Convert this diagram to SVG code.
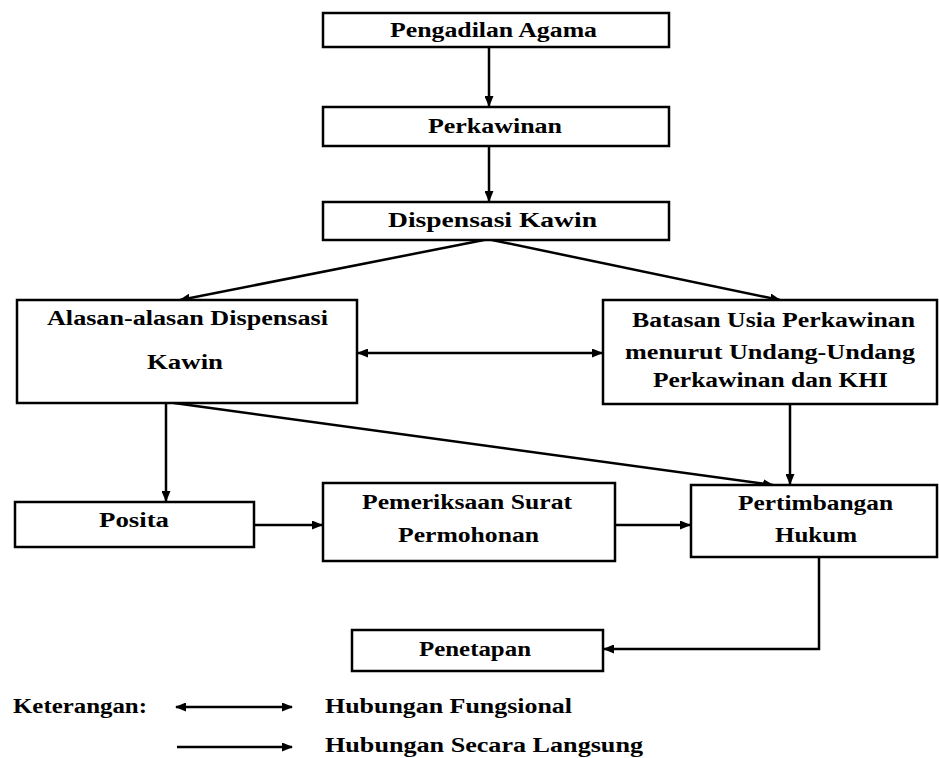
<svg xmlns="http://www.w3.org/2000/svg" width="939" height="758" viewBox="0 0 939 758">
<style>
.box{fill:#fff;stroke:#000;stroke-width:2.5}
.t{font-family:"Liberation Serif","Times New Roman",serif;font-weight:bold;font-size:20px;fill:#000;text-anchor:middle}
.tl{font-family:"Liberation Serif","Times New Roman",serif;font-weight:bold;font-size:20px;fill:#000}
.c{fill:none;stroke:#000;stroke-width:2.5}
</style>
<defs>
<marker id="ah" markerUnits="userSpaceOnUse" markerWidth="11" markerHeight="9" refX="10" refY="4.5" orient="auto">
<path d="M0,0 L11,4.5 L0,9 z" fill="#000"/>
</marker>
<marker id="as" markerUnits="userSpaceOnUse" markerWidth="11" markerHeight="9" refX="1" refY="4.5" orient="auto">
<path d="M11,0 L0,4.5 L11,9 z" fill="#000"/>
</marker>
</defs>
<rect width="939" height="758" fill="#fff"/>
<g id="connectors">
<line class="c" x1="489" y1="47" x2="489" y2="106" marker-end="url(#ah)"/>
<line class="c" x1="489" y1="146" x2="489" y2="201" marker-end="url(#ah)"/>
<line class="c" x1="484" y1="240" x2="180" y2="300" marker-end="url(#ah)"/>
<line class="c" x1="492" y1="240" x2="780" y2="300" marker-end="url(#ah)"/>
<line class="c" x1="358" y1="353" x2="602" y2="353" marker-start="url(#as)" marker-end="url(#ah)"/>
<line class="c" x1="166" y1="403" x2="166" y2="501" marker-end="url(#ah)"/>
<line class="c" x1="174" y1="403" x2="773" y2="485" marker-end="url(#ah)"/>
<line class="c" x1="790" y1="404" x2="790" y2="484" marker-end="url(#ah)"/>
<line class="c" x1="254" y1="525" x2="322" y2="525" marker-end="url(#ah)"/>
<line class="c" x1="615" y1="525" x2="690" y2="525" marker-end="url(#ah)"/>
<polyline class="c" points="819,557 819,649 604,649" marker-end="url(#ah)"/>
</g>
<g id="n-pengadilan">
<rect class="box" x="323" y="13" width="346" height="34"/>
<text class="t" x="493.5" y="37" textLength="207" lengthAdjust="spacingAndGlyphs">Pengadilan Agama</text>
</g>
<g id="n-perkawinan">
<rect class="box" x="323" y="107" width="346" height="39"/>
<text class="t" x="495" y="133" textLength="134" lengthAdjust="spacingAndGlyphs">Perkawinan</text>
</g>
<g id="n-dispensasi">
<rect class="box" x="323" y="202" width="346" height="38"/>
<text class="t" x="492.5" y="227" textLength="209" lengthAdjust="spacingAndGlyphs">Dispensasi Kawin</text>
</g>
<g id="n-alasan">
<rect class="box" x="17" y="300" width="340" height="103"/>
<text class="t" x="187.5" y="325" textLength="281" lengthAdjust="spacingAndGlyphs">Alasan-alasan Dispensasi</text>
<text class="t" x="185" y="369" textLength="76" lengthAdjust="spacingAndGlyphs">Kawin</text>
</g>
<g id="n-batasan">
<rect class="box" x="603" y="300" width="334" height="104"/>
<text class="t" x="773.5" y="327" textLength="283" lengthAdjust="spacingAndGlyphs">Batasan Usia Perkawinan</text>
<text class="t" x="770" y="359" textLength="290" lengthAdjust="spacingAndGlyphs">menurut Undang-Undang</text>
<text class="t" x="770.5" y="387" textLength="235" lengthAdjust="spacingAndGlyphs">Perkawinan dan KHI</text>
</g>
<g id="n-posita">
<rect class="box" x="15" y="502" width="239" height="45"/>
<text class="t" x="134" y="527" textLength="70" lengthAdjust="spacingAndGlyphs">Posita</text>
</g>
<g id="n-pemeriksaan">
<rect class="box" x="323" y="483" width="292" height="78"/>
<text class="t" x="467" y="509" textLength="210" lengthAdjust="spacingAndGlyphs">Pemeriksaan Surat</text>
<text class="t" x="468.5" y="542" textLength="141" lengthAdjust="spacingAndGlyphs">Permohonan</text>
</g>
<g id="n-pertimbangan">
<rect class="box" x="691" y="485" width="246" height="72"/>
<text class="t" x="815.5" y="510" textLength="155" lengthAdjust="spacingAndGlyphs">Pertimbangan</text>
<text class="t" x="816" y="542" textLength="82" lengthAdjust="spacingAndGlyphs">Hukum</text>
</g>
<g id="n-penetapan">
<rect class="box" x="352" y="630" width="251" height="41"/>
<text class="t" x="475" y="656" textLength="112" lengthAdjust="spacingAndGlyphs">Penetapan</text>
</g>
<g id="legend">
<text class="tl" x="13" y="713" textLength="134" lengthAdjust="spacingAndGlyphs">Keterangan:</text>
<line class="c" x1="176" y1="707" x2="292" y2="707" marker-start="url(#as)" marker-end="url(#ah)"/>
<text class="tl" x="325" y="713" textLength="247" lengthAdjust="spacingAndGlyphs">Hubungan Fungsional</text>
<line class="c" x1="177" y1="747" x2="292" y2="747" marker-end="url(#ah)"/>
<text class="tl" x="325" y="752" textLength="318" lengthAdjust="spacingAndGlyphs">Hubungan Secara Langsung</text>
</g>
</svg>
